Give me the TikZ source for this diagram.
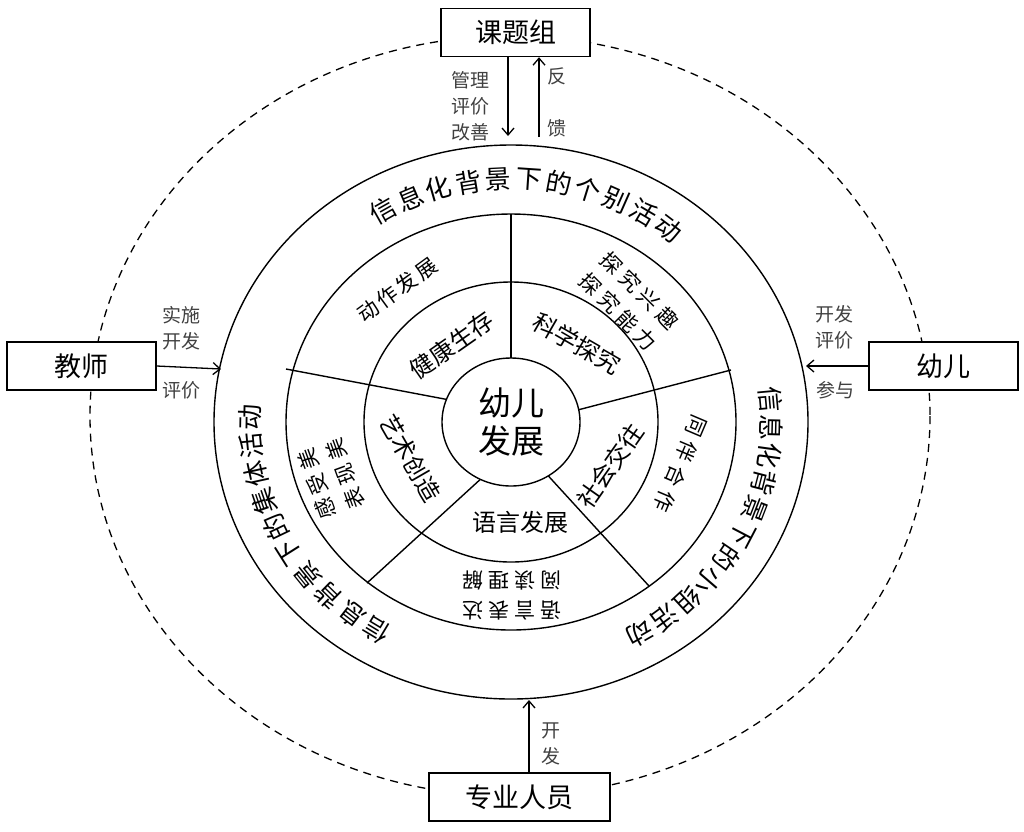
\documentclass[tikz,border=0pt]{standalone}
\usepackage{fontspec}
\setmainfont{Noto Sans CJK SC}
\usetikzlibrary{arrows.meta}
\begin{document}
\begin{tikzpicture}[x=1pt,y=-1pt,
  box/.style={draw=black, line width=1.4pt, fill=white, minimum width=149pt, minimum height=48pt, inner sep=0pt, font=\fontsize{27}{30}\selectfont},
  lbl/.style={text=black!75, inner sep=0pt, align=center, font=\fontsize{19}{26}\selectfont},
  ring/.style={line width=1.4pt},
  arr/.style={line width=1.3pt, -{Straight Barb[length=7pt,width=12pt]}},
  arcA/.style={inner sep=0pt, font=\fontsize{26}{30}\selectfont},
  ringB/.style={inner sep=0pt, align=center, font=\fontsize{21}{30}\selectfont},
  ringC/.style={inner sep=0pt, align=center, font=\fontsize{24}{28}\selectfont},
  hub/.style={inner sep=0pt, align=center, font=\fontsize{33}{38}\selectfont}]
\useasboundingbox (0,0) rectangle (1024,831);
% outer dashed ring
\draw[line width=1.3pt, dash pattern=on 8pt off 6pt] (510,416) ellipse [x radius=420, y radius=380];
% boxes
\node[box] (ktz) at (515.5,32.5) {课题组};
\node[box] (js) at (81.5,366) {教师};
\node[box] (ye) at (943.5,366) {幼儿};
\node[box, minimum width=181pt] (zy) at (519.5,797) {专业人员};
% rings
\draw[ring] (511,422) ellipse [x radius=297, y radius=277];
\draw[ring] (511,422) ellipse [x radius=225, y radius=208];
\draw[ring] (511,422) ellipse [x radius=147, y radius=140];
% spokes
\coordinate (s1a) at (511,214); \coordinate (s1b) at (511,368);
\coordinate (s2a) at (286,369); \coordinate (s2b) at (455,401);
\coordinate (s3a) at (731,370); \coordinate (s3b) at (570,412);
\coordinate (s4a) at (367,583); \coordinate (s4b) at (484,476);
\coordinate (s5a) at (649,586); \coordinate (s5b) at (542,469);
\foreach \k in {1,...,5}{\draw[ring] (s\k a) -- (s\k b);}
\fill[white] (511,422) ellipse [x radius=69, y radius=64];
\draw[ring] (511,422) ellipse [x radius=69, y radius=64];
% outer ring texts
\foreach \c [count=\i] in {信,息,化,背,景,下,的,个,别,活,动}{
  \pgfmathsetmacro\t{119.4-(\i-1)*6.66}
  \node[arcA, rotate=\t-90] (top\i) at ({511+261*cos(\t)},{422-243*sin(\t)}) {\c};
}
\foreach \c [count=\i] in {信,息,化,背,景,下,的,小,组,活,动}{
  \pgfmathsetmacro\t{5.2-(\i-1)*6.56}
  \node[arcA, rotate=\t-90] (rgt\i) at ({511+261*cos(\t)},{422-243*sin(\t)}) {\c};
}
\foreach \c [count=\i] in {信,息,背,景,下,的,集,体,活,动}{
  \pgfmathsetmacro\t{239-(\i-1)*6.67}
  \node[arcA, rotate=\t-90] (lft\i) at ({511+261*cos(\t)},{422-243*sin(\t)}) {\c};
}
% middle ring texts
\node[ringB, rotate=36] (dz) at (397,290) {动\kern3pt 作\kern3pt 发\kern3pt 展};
\node[ringB, rotate=-45] (tj) at (629,301) {探\kern5pt 究\kern5pt 兴\kern5pt 趣\\探\kern5pt 究\kern5pt 能\kern5pt 力};
\node[ringB, rotate=-113] (tb) at (681,464) {同\kern6pt 伴\kern6pt 合\kern6pt 作};
\node[ringB, rotate=180] (yy) at (512,595) {语\kern5pt 言\kern5pt 表\kern5pt 达\\阅\kern5pt 读\kern5pt 理\kern5pt 解};
\node[ringB, rotate=110] (gs) at (331,479) {感\kern5pt 受\kern5pt 美\\表\kern5pt 现\kern5pt 美};
% inner ring texts
\node[ringC, rotate=35] (jk) at (452,345) {健康生存};
\node[ringC, rotate=-30] (kx) at (577,343) {科学探究};
\node[ringC, rotate=55] (sh) at (610,466) {社会交往};
\node[ringC] (yf) at (520,522) {语言发展};
\node[ringC, rotate=-60] (ys) at (410,458) {艺术创造};
% hub
\node[hub] (hub) at (511,422) {幼儿\\发展};
% arrows
\coordinate (a1) at (508,136); \draw[arr] (ktz.south -| a1) -- (a1);
\coordinate (a2) at (539,137); \draw[arr] (a2) -- (ktz.south -| a2);
\coordinate (a3) at (221,369); \draw[arr] (js.east) -- (a3);
\coordinate (a4) at (806,366); \draw[arr] (ye.west) -- (a4);
\coordinate (a5) at (529,700); \draw[arr] (zy.north -| a5) -- (a5);
% labels
\node[lbl] (l1) at (470,106) {管理\\评价\\改善};
\node[lbl] (l2) at (557,76) {反};
\node[lbl] (l3) at (557,128) {馈};
\node[lbl] (l4) at (181,328) {实施\\开发};
\node[lbl] (l5) at (181,390) {评价};
\node[lbl] (l6) at (834,327) {开发\\评价};
\node[lbl] (l7) at (835,390) {参与};
\node[lbl] (l8) at (551,744) {开\\发};
\end{tikzpicture}
\end{document}
